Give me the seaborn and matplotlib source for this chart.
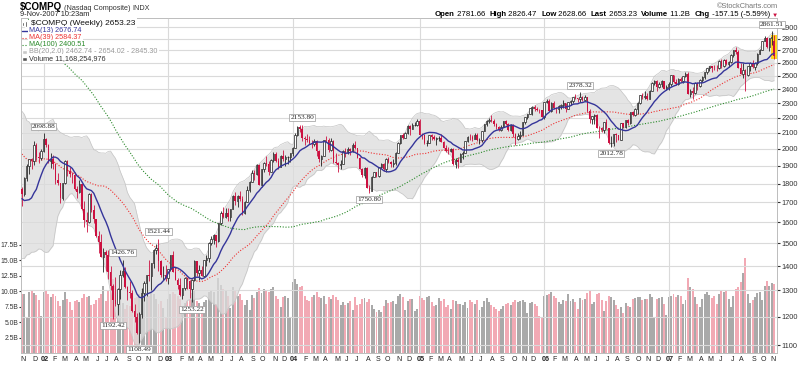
import numpy as np
import pandas as pd
import matplotlib
matplotlib.use("Agg")
import matplotlib.pyplot as plt
import seaborn as sns
from matplotlib.ticker import FixedLocator, NullLocator
from matplotlib.lines import Line2D
from matplotlib.patches import Rectangle
from matplotlib.transforms import blended_transform_factory

# --------------------------------------------------------------
# data
# --------------------------------------------------------------

# weekly closes Dec-1999 .. Oct-2001, only used to warm up MA / BB
pre_closes = [
    3520.63, 3620.24, 3753.06, 3969.44, 4069.31,
    3882.62, 4064.27, 4235.40, 3887.07, 4244.14, 4395.45, 4411.74, 4590.50, 4914.79, 5048.62,
    4798.13, 4963.03, 4572.83, 4446.45, 3321.29, 3643.88, 3860.66, 3816.82, 3529.06, 3390.40,
    3205.11, 3813.38, 3874.84, 3860.56, 3845.34, 3966.11, 4023.20, 4246.18, 4094.45, 3663.00,
    3787.36, 3789.47, 3930.34, 4042.68, 4234.33, 3986.96, 3835.23, 3803.76, 3672.82, 3361.01,
    3316.77, 3483.14, 3278.36, 3451.58, 3028.99, 3027.19, 2904.38, 2645.29, 2917.43, 2653.27,
    2517.02, 2470.52,
    2407.65, 2626.50, 2770.38, 2781.30, 2660.50, 2470.97, 2425.38, 2262.51, 2117.63, 2052.78,
    1890.91, 1928.68, 1840.26, 1720.36, 1961.43, 2163.41, 2075.68, 2191.53, 2107.43, 2198.88,
    2251.03, 2149.44, 2215.10, 2028.43, 2034.84, 2160.54, 2004.16, 2084.79, 2029.37, 2029.07,
    2066.33, 1956.47, 1867.01, 1916.80, 1805.43, 1687.70, 1695.38, 1423.19, 1498.80, 1605.30,
    1703.40, 1671.31, 1768.96,
]

first_week = "2001-11-02"

# weekly closes, 2-Nov-2001 .. 9-Nov-2007
closes = [
    # 2001
    1745.73, 1828.48, 1898.58, 1941.23, 1930.58, 2021.26, 1953.17, 1945.83, 1987.26,
    # 2002
    2059.38, 2022.46, 1930.34, 1937.70, 1911.24, 1818.88, 1805.20, 1724.54, 1802.74, 1929.67,
    1868.30, 1851.39, 1845.35, 1770.03, 1756.19, 1796.83, 1663.89, 1613.03, 1600.85, 1741.39,
    1661.49, 1615.73, 1535.48, 1504.74, 1440.96, 1463.21, 1448.36, 1373.50, 1319.15, 1262.12,
    1247.92, 1306.84, 1361.01, 1380.62, 1314.85, 1295.30, 1291.40, 1221.09, 1199.16, 1139.90,
    1210.47, 1287.86, 1331.13, 1360.70, 1359.28, 1411.14, 1468.74, 1478.78, 1422.34, 1362.42,
    1363.05, 1348.31,
    # 2003
    1387.08, 1447.72, 1376.19, 1342.14, 1320.91, 1282.47, 1310.17, 1349.02, 1337.52, 1305.29,
    1340.77, 1421.84, 1369.60, 1383.51, 1358.85, 1425.50, 1434.54, 1502.88, 1520.15, 1538.53,
    1510.09, 1595.91, 1646.02, 1626.49, 1644.72, 1625.26, 1663.46, 1733.93, 1708.50, 1730.70,
    1715.62, 1644.03, 1702.01, 1765.40, 1810.45, 1858.24, 1855.03, 1905.70, 1792.07, 1880.71,
    1915.31, 1912.36, 1865.59, 1932.21, 1970.74, 1930.26, 1893.88, 1960.26, 1937.82, 1949.00,
    1951.02, 1973.14,
    # 2004
    2006.68, 2086.92, 2140.46, 2123.87, 2066.15, 2064.01, 2053.56, 2037.93, 2029.82, 2047.63,
    1984.73, 1940.47, 1960.02, 2057.17, 2052.88, 1995.74, 2049.77, 1920.15, 1917.96, 1904.25,
    1912.09, 1986.74, 1978.62, 1999.87, 1986.73, 2025.47, 2006.66, 1946.33, 1883.15, 1849.09,
    1887.36, 1776.89, 1757.22, 1838.02, 1862.09, 1844.48, 1894.31, 1910.09, 1879.48, 1942.20,
    1919.97, 1911.50, 1915.14, 1974.99, 2038.94, 2085.34, 2070.63, 2101.97, 2147.96, 2128.07,
    2150.91, 2154.22, 2175.44,
    # 2005
    2088.66, 2087.91, 2034.27, 2035.83, 2086.66, 2076.66, 2058.62, 2065.40, 2070.61, 2041.60,
    2007.79, 1990.22, 1984.81, 1999.35, 1908.15, 1932.36, 1921.65, 1967.35, 1976.78, 2046.42,
    2075.73, 2071.43, 2063.00, 2090.11, 2053.27, 2057.37, 2112.88, 2156.78, 2179.74, 2184.83,
    2177.91, 2156.90, 2135.56, 2120.77, 2141.07, 2175.51, 2160.35, 2116.84, 2151.69, 2090.35,
    2064.83, 2082.21, 2089.88, 2169.43, 2202.47, 2227.07, 2263.01, 2273.37, 2256.73, 2252.48,
    2249.42, 2205.32,
    # 2006
    2305.62, 2316.69, 2247.70, 2304.23, 2262.58, 2261.88, 2282.36, 2287.04, 2302.60, 2262.04,
    2306.48, 2312.82, 2339.79, 2339.02, 2326.11, 2342.86, 2322.57, 2342.57, 2243.78, 2193.88,
    2210.37, 2219.86, 2135.06, 2129.95, 2121.47, 2172.09, 2130.06, 2037.35, 2039.42, 2094.14,
    2085.05, 2057.71, 2163.95, 2140.29, 2183.75, 2165.79, 2235.59, 2218.93, 2258.43, 2299.99,
    2357.29, 2342.30, 2350.62, 2330.79, 2389.72, 2445.86, 2460.26, 2413.21, 2437.36, 2457.20,
    2401.18, 2415.29,
    # 2007
    2434.25, 2502.82, 2451.31, 2435.49, 2475.88, 2459.82, 2496.31, 2515.10, 2368.00, 2387.55,
    2372.66, 2448.93, 2421.64, 2471.34, 2491.94, 2526.39, 2557.21, 2572.15, 2562.22, 2558.45,
    2557.19, 2613.92, 2573.54, 2626.71, 2588.96, 2603.23, 2666.51, 2707.00, 2687.60, 2562.24,
    2511.25, 2544.89, 2505.03, 2576.69, 2596.36, 2565.70, 2602.18, 2671.22, 2701.50, 2780.32,
    2805.68, 2725.16, 2804.19, 2810.38, 2653.23,
]

highs = [
    1780, 1835, 1911, 1941, 1944, 2051, 2034, 1980, 1997,
    2098.88, 2066, 2030, 1975, 1964, 1916, 1857, 1805, 1803, 1936,
    1932, 1895, 1867, 1862, 1788, 1820, 1799, 1705, 1652, 1747,
    1748, 1688, 1618, 1558, 1544, 1479, 1470, 1470, 1400, 1327,
    1352, 1311, 1384, 1426.76, 1394, 1317, 1336, 1300, 1247, 1213,
    1217, 1310, 1337, 1362, 1426, 1412, 1475, 1495, 1521.44, 1428,
    1401, 1406,
    1389, 1448, 1467, 1396, 1350, 1350, 1311, 1353, 1344, 1340,
    1344, 1425, 1422, 1406, 1401, 1426, 1448, 1505, 1535, 1542,
    1540, 1597, 1658, 1676, 1669, 1673, 1667, 1736, 1753, 1738,
    1760, 1732, 1705, 1787, 1815, 1876, 1874, 1908, 1910, 1884,
    1924, 1955, 1927, 1941, 1983, 1982, 1944, 1963, 1991, 1964,
    1960, 1975,
    2015, 2100, 2142, 2153, 2153.80, 2082, 2094, 2083, 2056, 2061,
    2058, 1995, 1963, 2057, 2079, 2068, 2065, 2053, 1976, 1920,
    1935, 1991, 2004, 2009, 2003, 2039, 2050, 2005, 1954, 1890,
    1892, 1894, 1790, 1841, 1866, 1866, 1895, 1918, 1914, 1944,
    1952, 1929, 1940, 1981, 2040, 2086, 2098, 2105, 2151, 2149,
    2167, 2170, 2191,
    2191, 2101, 2095, 2058, 2090, 2093, 2087, 2073, 2083, 2096,
    2048, 2024, 2014, 2008, 2006, 1946, 1950, 1974, 1987, 2052,
    2078, 2096, 2085, 2101, 2097, 2069, 2114, 2159, 2183, 2196,
    2219, 2189, 2164, 2146, 2153, 2177, 2185, 2163, 2158, 2159,
    2098, 2099, 2115, 2174, 2205, 2228, 2264, 2278, 2284, 2274,
    2261, 2254,
    2307, 2332, 2328, 2307, 2317, 2271, 2284, 2291, 2320, 2303,
    2310, 2320, 2346, 2363, 2338, 2378.32, 2348, 2355, 2346, 2260,
    2213, 2226, 2227, 2142, 2140, 2174, 2192, 2130, 2078, 2096,
    2100, 2090, 2166, 2166, 2186, 2192, 2238, 2245, 2266, 2306,
    2358, 2375, 2383, 2373, 2392, 2450, 2468, 2466, 2450, 2470,
    2458, 2430,
    2454, 2508, 2508, 2475, 2484, 2488, 2498, 2531, 2525, 2403,
    2415, 2453, 2455, 2473, 2497, 2527, 2562, 2578, 2575, 2584,
    2586, 2619, 2630, 2628, 2634, 2617, 2668, 2708, 2724.74, 2700,
    2601, 2600, 2549, 2579, 2610, 2620, 2605, 2680, 2712, 2783,
    2826, 2815, 2809, 2861.51, 2826.47,
]

lows = [
    1680, 1734, 1812, 1854, 1880, 1905, 1932, 1916, 1935,
    1979, 2010, 1916, 1890, 1880, 1796, 1790, 1696, 1712, 1796,
    1843, 1835, 1803, 1767, 1723, 1749, 1662, 1576, 1555, 1598,
    1652, 1594, 1528, 1456, 1437, 1375, 1380, 1346, 1300, 1192.42,
    1240, 1206, 1267, 1355, 1309, 1264, 1270, 1218, 1182, 1137,
    1108.49, 1196, 1260, 1276, 1336, 1303, 1392, 1452, 1380, 1355,
    1340, 1336,
    1327, 1378, 1373, 1340, 1306, 1279, 1268, 1303, 1305, 1271,
    1253.22, 1339, 1360, 1340, 1356, 1355, 1400, 1418, 1494, 1495,
    1484, 1508, 1588, 1620, 1620, 1605, 1607, 1666, 1686, 1678,
    1709, 1636, 1638, 1700, 1754, 1806, 1821, 1848, 1790, 1780,
    1867, 1899, 1848, 1866, 1923, 1920, 1882, 1893, 1930, 1899,
    1912, 1920,
    1955, 2006, 2080, 2107, 2049, 2026, 2045, 2030, 2004, 2016,
    1960, 1925, 1896, 1964, 2041, 1984, 1985, 1917, 1910, 1865,
    1881, 1909, 1954, 1972, 1962, 1984, 2001, 1944, 1880, 1838,
    1832, 1774, 1750.80, 1758, 1835, 1834, 1837, 1888, 1872, 1866,
    1915, 1895, 1893, 1903, 1973, 2033, 2060, 2067, 2094, 2087,
    2127, 2144, 2146,
    2085, 2063, 2032, 2017, 2036, 2057, 2056, 2025, 2051, 2040,
    2005, 1980, 1969, 1980, 1905, 1889, 1889, 1925, 1938, 1974,
    2040, 2058, 2050, 2060, 2052, 2030, 2040, 2110, 2143, 2162,
    2170, 2145, 2124, 2115, 2114, 2137, 2150, 2110, 2115, 2072,
    2025, 2058, 2063, 2090, 2160, 2189, 2223, 2216, 2243, 2243,
    2229, 2205,
    2189, 2298, 2245, 2240, 2260, 2235, 2233, 2261, 2268, 2241,
    2262, 2288, 2303, 2329, 2306, 2306, 2312, 2312, 2241, 2168,
    2156, 2155, 2132, 2065, 2104, 2100, 2127, 2032, 2012.78, 2020,
    2045, 2053, 2053, 2130, 2135, 2150, 2160, 2212, 2210, 2223,
    2293, 2328, 2327, 2320, 2326, 2388, 2430, 2385, 2410, 2418,
    2398, 2393,
    2394, 2420, 2445, 2430, 2433, 2455, 2442, 2490, 2365, 2340,
    2331, 2368, 2396, 2413, 2455, 2475, 2514, 2540, 2531, 2544,
    2535, 2550, 2562, 2570, 2586, 2567, 2600, 2645, 2675, 2561,
    2510, 2486, 2386.69, 2500, 2534, 2561, 2546, 2585, 2668, 2700,
    2775, 2723, 2698, 2748, 2628.66,
]

# weekly volume, billions of shares
volumes = [
    9.5, 9.6, 5.9, 9.8, 10.1, 9.7, 9.4, 8.6, 6.0,
    9.8, 10.2, 9.5, 9.0, 9.6, 9.3, 8.4, 7.6, 8.6, 9.8, 8.8, 8.2, 6.9, 8.4, 8.6, 8.3, 8.9, 9.5,
    9.1, 9.3, 7.8, 7.9, 8.6, 8.9, 9.6, 10.8, 8.4, 10.2, 11.4, 11.9, 10.8, 9.4, 9.2, 8.1, 7.1,
    7.7, 7.6, 8.4, 8.9, 9.1, 9.6, 10.3, 9.5, 9.0, 9.2, 9.8, 9.6, 8.7, 7.9, 8.4, 7.3, 5.6,
    8.7, 9.6, 9.9, 9.5, 9.2, 8.8, 7.4, 8.1, 8.4, 8.6, 9.7, 10.2, 8.4, 8.1, 7.6, 8.2, 8.6, 9.9,
    10.1, 9.8, 8.0, 12.1, 11.0, 10.3, 10.0, 9.2, 7.3, 10.6, 10.2, 9.3, 9.5, 8.6, 7.8, 8.5, 6.9,
    9.4, 8.9, 9.8, 10.5, 9.7, 10.3, 10.1, 9.9, 10.4, 10.6, 9.2, 8.7, 7.5, 9.1, 9.3, 8.9, 5.8,
    11.5, 11.9, 11.2, 10.6, 10.9, 9.3, 8.6, 8.4, 9.1, 9.4, 9.8, 9.0, 8.9, 9.2, 8.0, 9.1, 8.7,
    9.4, 9.0, 8.5, 7.8, 8.3, 7.7, 8.1, 8.4, 6.9, 9.0, 7.8, 7.9, 8.8, 8.9, 8.3, 8.7, 7.8, 7.2,
    6.6, 7.0, 6.7, 7.6, 8.5, 8.1, 8.3, 8.4, 8.0, 9.2, 9.6, 9.0, 7.0, 8.4, 8.8, 8.7, 6.8, 7.1,
    9.3, 8.9, 8.6, 9.0, 9.2, 8.3, 7.6, 7.7, 8.9, 8.4, 8.7, 7.4, 7.8, 7.1, 8.6, 8.4, 8.0, 7.9,
    7.7, 8.3, 7.3, 8.5, 8.2, 8.0, 8.6, 7.0, 7.5, 8.4, 8.9, 8.2, 7.7, 7.5, 7.1, 6.8, 7.2, 7.6,
    7.9, 8.1, 7.7, 8.3, 8.6, 8.2, 8.4, 8.5, 8.3, 6.5, 8.1, 8.2, 8.0, 7.6, 6.0, 5.6,
    9.3, 9.4, 9.6, 9.8, 9.2, 8.9, 8.3, 7.9, 8.6, 8.4, 9.5, 8.4, 8.8, 8.3, 7.1, 8.9, 8.6, 8.7,
    9.7, 10.2, 7.9, 8.3, 9.6, 9.7, 8.6, 6.8, 8.4, 9.3, 9.0, 8.6, 7.8, 7.2, 7.5, 6.4, 8.1, 7.6,
    7.4, 8.7, 8.9, 9.1, 9.0, 8.6, 8.8, 8.7, 9.5, 9.1, 5.9, 8.7, 8.9, 9.1, 7.9, 6.1,
    9.0, 9.3, 9.6, 9.0, 9.4, 9.2, 7.9, 8.6, 12.1, 10.6, 10.3, 9.1, 8.0, 7.4, 8.7, 9.6, 9.9,
    9.4, 8.9, 9.3, 8.0, 9.6, 10.0, 9.8, 10.2, 8.8, 7.5, 9.3, 10.3, 10.6, 11.5, 12.9, 15.4,
    9.6, 8.1, 8.6, 9.0, 9.7, 9.9, 8.6, 10.9, 11.6, 10.8, 11.3, 11.2,
]

last_open = 2781.66

# high / low call-outs: week index, value, side
label_idx = [9, 38, 42, 49, 57, 71, 117, 145, 233, 246, 313]
label_val = [2098.88, 1192.42, 1426.76, 1108.49, 1521.44, 1253.22, 2153.80, 1750.80, 2378.32, 2012.78, 2861.51]
label_up = [True, False, True, False, True, False, True, False, True, False, True]

price_ticks = list(range(1100, 3000, 100))
vol_ticks = [2.5, 5.0, 7.5, 10.0, 12.5, 15.0, 17.5]

legend_rows = [
    ("$COMPQ (Weekly) 2653.23", "#111111"),
    ("MA(13) 2676.74", "#35359a"),
    ("MA(39) 2584.37", "#ee3333"),
    ("MA(100) 2400.51", "#2a8a2a"),
    ("BB(20,2.0) 2462.74 - 2654.02 - 2845.30", "#9a9a9a"),
    ("Volume 11,168,254,976", "#333333"),
]

title_runs = [("$COMPQ", 7.0, "bold", "#000000"),
              (" (Nasdaq Composite) ", 5.2, "normal", "#333333"),
              ("INDX", 5.2, "normal", "#333333")]

header_runs = [
    ("Open", "bold"), (" 2781.66  ", "normal"),
    ("High", "bold"), (" 2826.47  ", "normal"),
    ("Low", "bold"), (" 2628.66  ", "normal"),
    ("Last", "bold"), (" 2653.23  ", "normal"),
    ("Volume", "bold"), (" 11.2B  ", "normal"),
    ("Chg", "bold"), (" -157.15 (-5.59%) ", "normal"),
]

assert len(pre_closes) == 100
assert len(closes) == len(highs) == len(lows) == len(volumes) == 315

# --------------------------------------------------------------
# indicators
# --------------------------------------------------------------

n = len(closes)
x = np.arange(n)
c = np.array(closes, dtype=float)
prev = np.r_[pre_closes[-1], c[:-1]]
o = prev.copy()
o[-1] = last_open
h = np.maximum(np.array(highs, dtype=float), np.maximum(o, c))
l = np.minimum(np.array(lows, dtype=float), np.minimum(o, c))
down = c < prev

allc = pd.Series(pre_closes + closes, dtype=float)
ma13 = allc.rolling(13).mean().values[-n:]
ma39 = allc.rolling(39).mean().values[-n:]
ma100 = allc.rolling(100).mean().values[-n:]
bb_mid = allc.rolling(20).mean()
bb_sd = allc.rolling(20).std(ddof=0)
bb_up = (bb_mid + 2 * bb_sd).values[-n:]
bb_lo = (bb_mid - 2 * bb_sd).values[-n:]

dates = pd.date_range(first_week, periods=n, freq="W-FRI")

# --------------------------------------------------------------
# plot
# --------------------------------------------------------------

sns.set_style("white")
plt.rcParams["font.family"] = ["Liberation Sans", "DejaVu Sans"]

W, H = 799, 365
L, R, T, B = 21, 777, 18, 353
fig = plt.figure(figsize=(W / 100, H / 100), dpi=100)
renderer = fig.canvas.get_renderer()


def fx(px):
    return px / W


def fy(py):
    return 1 - py / H


axv = fig.add_axes([L / W, 1 - B / H, (R - L) / W, (B - T) / H])
ax = axv.twinx()
ax.set_zorder(axv.get_zorder() + 1)
ax.patch.set_visible(False)

RED = "#cc1040"
PINK = "#f2a9b4"
GREY = "#a9a9a9"

# volume
axv.bar(x, volumes, width=0.82, color=[PINK if d else GREY for d in down], linewidth=0)
axv.set_ylim(0, (B - T) / 6.18)
axv.set_yticks(vol_ticks)
axv.set_yticklabels([f"{v:.1f}B" for v in vol_ticks])
axv.tick_params(axis="y", labelsize=4.9, length=1.5, pad=0.5, colors="#333333")
axv.set_xlim(-0.4, 315.2)

# price grid
ax.set_yscale("log")
ax.set_ylim(1074, 2981)
ax.yaxis.set_major_locator(FixedLocator(price_ticks))
ax.yaxis.set_minor_locator(NullLocator())
ax.set_yticklabels([str(v) for v in price_ticks])
ax.tick_params(axis="y", labelsize=5.3, length=2, pad=1.5, colors="#333333")
for v in price_ticks:
    ax.axhline(v, color="#dadada", lw=0.8, zorder=0)

month_idx = [i for i in range(n) if i == 0 or dates[i].month != dates[i - 1].month]
year_idx = [i for i in month_idx if dates[i].month == 1]
for i in year_idx:
    ax.axvline(i, color="#dadada", lw=0.8, zorder=0)

# bollinger band
ax.fill_between(x, bb_lo, bb_up, color="#dcdcdc", alpha=0.75, lw=0, zorder=1)
ax.plot(x, bb_up, color="#c4c4c4", lw=0.5, zorder=1)
ax.plot(x, bb_lo, color="#c4c4c4", lw=0.5, zorder=1)

# moving averages
sns.lineplot(x=x, y=ma100, ax=ax, color="#2a8a2a", lw=0.8, linestyle=(0, (1, 1.5)), zorder=2)
sns.lineplot(x=x, y=ma39, ax=ax, color="#ee3333", lw=0.8, linestyle=(0, (1, 1.5)), zorder=2)
sns.lineplot(x=x, y=ma13, ax=ax, color="#35359a", lw=1.0, zorder=6)

# current-week highlight
ax.add_patch(Rectangle((n - 1 - 1.2, l[-1]), 2.4, h[-1] - l[-1], color="#ffd21f", lw=0, zorder=3))

# candles
cols = [RED if d else "#222222" for d in down]
ax.vlines(x, l, h, colors=cols, lw=0.6, zorder=4)
ax.bar(x[~down], np.maximum(c - o, 0.5)[~down], bottom=o[~down], width=0.62,
       facecolor="white", edgecolor="#222222", lw=0.5, zorder=5)
ax.bar(x[down], np.maximum(o - c, 0.5)[down], bottom=c[down], width=0.62,
       color=RED, lw=0, zorder=5)

# call-outs
for i, v, up in zip(label_idx, label_val, label_up):
    ax.annotate(f"{v:.2f}", xy=(i, v), xytext=(0, 7 if up else -7), textcoords="offset pixels",
                ha="center", va="center", fontsize=5.3, family=["Liberation Serif", "DejaVu Serif"],
                bbox=dict(boxstyle="square,pad=0.15", fc="white", ec="#999999", lw=0.5),
                zorder=10, annotation_clip=False)

ax.set_xlim(-0.4, 315.2)
ax.set_xticks([])
axv.set_xticks(month_idx)
axv.set_xticklabels([])
axv.tick_params(axis="x", length=1.5, color="#999999")
for a in (ax, axv):
    for s in a.spines.values():
        s.set_color("#bdbdbd")
        s.set_linewidth(0.6)

# month letters along the bottom
tr = blended_transform_factory(ax.transData, ax.transAxes)
letters = "JFMAMJJASOND"
for i in month_idx:
    d = dates[i]
    if d.month == 1:
        ax.text(i + 0.5, -0.018, d.strftime("%y"), transform=tr, ha="center", va="center",
                fontsize=5.3, weight="bold")
    else:
        ax.text(i + 0.5, -0.018, letters[d.month - 1], transform=tr, ha="center", va="center",
                fontsize=5.0, color="#222222")


def draw_runs(x0, y0, runs, align="left"):
    # lay text pieces side by side, measured in pixels
    placed = []
    pos = 0.0
    for s, fs, wgt, col in runs:
        t = fig.text(0, fy(y0), s, fontsize=fs, weight=wgt, color=col, va="baseline", ha="left",
                     family=["Liberation Sans", "DejaVu Sans"], zorder=30)
        placed.append((t, pos))
        pos += t.get_window_extent(renderer).width
    start = x0 if align == "left" else x0 - pos
    for t, off in placed:
        t.set_x(fx(start + off))


# header
draw_runs(20, 9.5, title_runs)
fig.text(fx(20), fy(16.5), "9-Nov-2007 10:23am", fontsize=5.3, va="baseline", zorder=30)
fig.text(fx(778), fy(8), "\u00a9StockCharts.com", fontsize=5.3, va="baseline", ha="right", color="#777777")
draw_runs(778, 16.5, [(s, 5.6, w, "#000000") for s, w in header_runs] + [("\u25bc", 4.5, "normal", RED)],
          align="right")

# legend block
ly = [23.5, 30.5, 37.5, 44.5, 51.5, 58.5]
for k, (s, col) in enumerate(legend_rows):
    fs = 6.0 if k == 0 else 5.2
    tx = 31 if k == 0 else 29
    fig.text(fx(tx), fy(ly[k]), s, fontsize=fs, color=col, va="center", ha="left", zorder=20,
             bbox=dict(boxstyle="square,pad=0.2", fc="white", ec="none"))
fig.patches.append(Rectangle((fx(22), fy(25.5)), fx(2), 4 / H, transform=fig.transFigure, fc="#222222"))
fig.patches.append(Rectangle((fx(25), fy(26.5)), fx(2), 5 / H, transform=fig.transFigure, fc="#222222"))
fig.lines.append(Line2D([fx(22), fx(28)], [fy(30.5), fy(30.5)], transform=fig.transFigure, color="#35359a", lw=1))
fig.lines.append(Line2D([fx(22), fx(28)], [fy(37.5), fy(37.5)], transform=fig.transFigure, color="#ee3333", lw=0.8, ls=":"))
fig.lines.append(Line2D([fx(22), fx(28)], [fy(44.5), fy(44.5)], transform=fig.transFigure, color="#2a8a2a", lw=0.8, ls=":"))
fig.patches.append(Rectangle((fx(22), fy(54)), fx(5), 4 / H, transform=fig.transFigure, fc="#c8c8c8"))
fig.patches.append(Rectangle((fx(22), fy(61)), fx(5), 4 / H, transform=fig.transFigure, fc="#555555"))

fig.savefig("out.png", dpi=100)
